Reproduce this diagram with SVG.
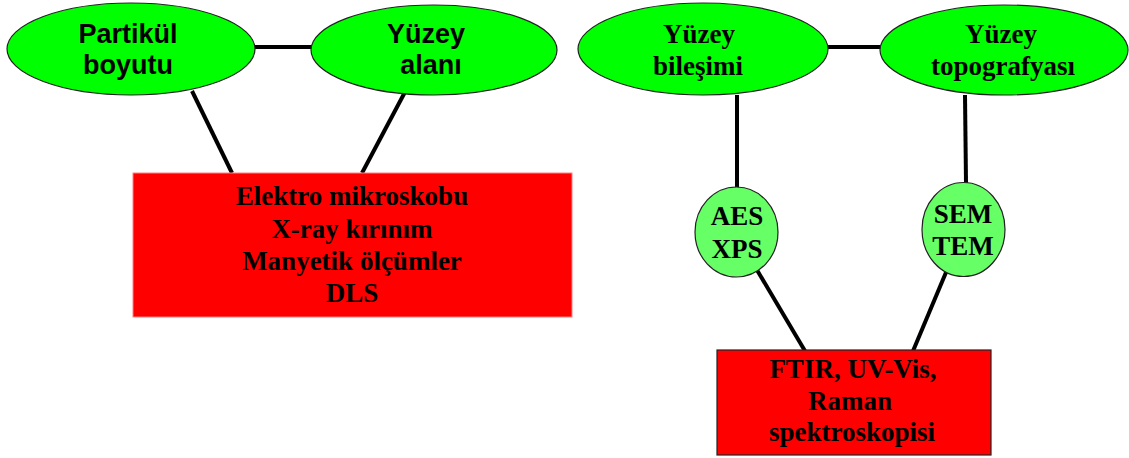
<svg xmlns="http://www.w3.org/2000/svg" width="1129" height="458" viewBox="0 0 1129 458">
<style>
.big{fill:#00ff00;stroke:#222;stroke-width:1.2}
.small{fill:#66ff66;stroke:#222;stroke-width:1.2}
.sans{font-family:"Liberation Sans",Arial,sans-serif;font-weight:bold;font-size:27px;fill:#000;text-anchor:middle}
.serif{font-family:"Liberation Serif","Times New Roman",serif;font-weight:bold;font-size:27px;fill:#000;text-anchor:middle}
.con{stroke:#000;stroke-width:4;fill:none}
</style>
<rect width="1129" height="458" fill="#fff"/>
<g id="connectors">
<line class="con" x1="255" y1="47" x2="312" y2="47"/>
<line class="con" x1="827" y1="47" x2="881" y2="47"/>
<line class="con" x1="192" y1="91" x2="232" y2="173"/>
<line class="con" x1="405" y1="92" x2="362" y2="173"/>
<line class="con" x1="737" y1="95" x2="737" y2="188"/>
<line class="con" x1="965" y1="95" x2="966" y2="183"/>
<line class="con" x1="757" y1="270" x2="805" y2="351"/>
<line class="con" x1="947" y1="270" x2="913" y2="351"/>
</g>
<g id="n1"><ellipse class="big" cx="131" cy="49" rx="124" ry="46"/><text class="sans" x="128" y="43">Partikül</text><text class="sans" x="128" y="74">boyutu</text></g>
<g id="n2"><ellipse class="big" cx="434" cy="50" rx="123" ry="45"/><text class="sans" x="426" y="43">Yüzey</text><text class="sans" x="431" y="74">alanı</text></g>
<g id="n3"><ellipse class="big" cx="703" cy="49" rx="125" ry="46"/><text class="serif" x="699" y="43">Yüzey</text><text class="serif" x="698" y="75">bileşimi</text></g>
<g id="n4"><ellipse class="big" cx="1004" cy="50" rx="124" ry="45"/><text class="serif" x="1001" y="43">Yüzey</text><text class="serif" x="1003" y="75">topografyası</text></g>
<g id="n5"><rect x="133" y="173" width="439" height="144" fill="#ff0000" stroke="#ff8080" stroke-width="1"/>
<text class="serif" x="352" y="205">Elektro mikroskobu</text>
<text class="serif" x="352" y="238">X-ray kırınım</text>
<text class="serif" x="352" y="270">Manyetik ölçümler</text>
<text class="serif" x="352" y="302">DLS</text></g>
<g id="n6"><ellipse class="small" cx="736.5" cy="232" rx="41.5" ry="45"/><text class="serif" x="737" y="225">AES</text><text class="serif" x="737" y="258">XPS</text></g>
<g id="n7"><ellipse class="small" cx="963.5" cy="229.5" rx="41.5" ry="47"/><text class="serif" x="963" y="223">SEM</text><text class="serif" x="963" y="255">TEM</text></g>
<g id="n8"><rect x="717" y="350" width="274" height="105" fill="#ff0000" stroke="#222" stroke-width="1.2"/>
<text class="serif" x="853" y="378">FTIR, UV-Vis,</text>
<text class="serif" x="850" y="410">Raman</text>
<text class="serif" x="852" y="441">spektroskopisi</text></g>
</svg>
